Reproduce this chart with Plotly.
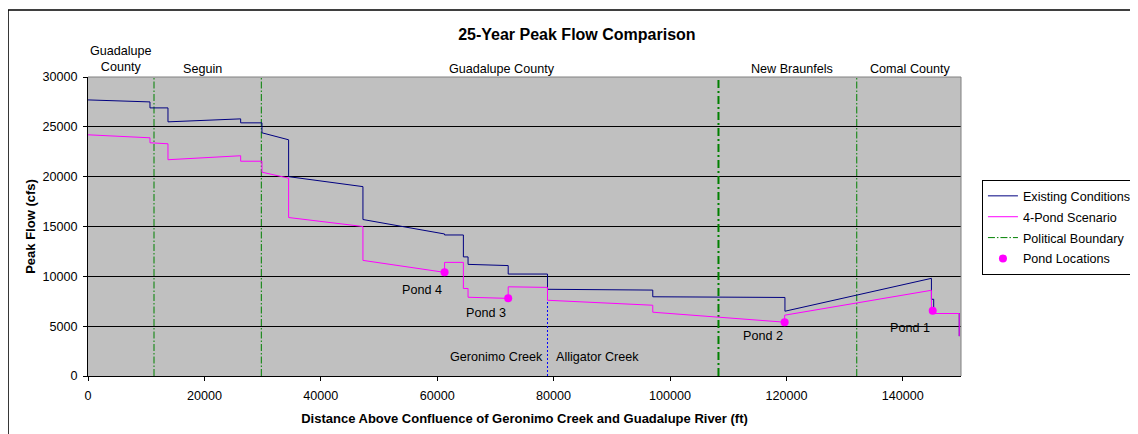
import plotly.graph_objects as go

# ---- data ----
exist_x = [0, 10650, 10650, 13740, 13740, 26230, 26230, 29890, 29890, 34470, 34470,
           47240, 47240, 61270, 61270, 64500, 64500, 65300, 65300, 72200, 72200,
           78950, 78950, 97040, 97040, 119750, 119750, 144920, 144920, 145310, 145310,
           149700, 149700]
exist_y = [27700, 27500, 26900, 26900, 25500, 25800, 25400, 25400, 24400, 23700, 20000,
           19000, 15700, 14250, 14150, 14150, 11950, 11950, 11200, 11080, 10230,
           10230, 8700, 8620, 7950, 7880, 6500, 9800, 7700, 7700, 6270,
           6270, 4000]

pond4_x = [0, 10650, 10650, 13740, 13740, 26230, 26230, 29890, 29890, 34470, 34470,
           47240, 47240, 61270, 61270, 64500, 64500, 65300, 65300, 72200, 72200,
           78950, 78950, 97040, 97040, 119700, 119700, 144920, 144920, 145140, 145310,
           149700, 149700]
pond4_y = [24200, 23900, 23400, 23300, 21700, 22100, 21550, 21550, 20450, 19850, 15900,
           15000, 11600, 10400, 11400, 11400, 8780, 8780, 7900, 7790, 8950,
           8890, 7600, 7100, 6400, 5400, 6100, 8600, 6800, 6550, 6270,
           6270, 4000]

pond_names = ["Pond 1", "Pond 2", "Pond 3", "Pond 4"]
pond_x = [145140, 119700, 72200, 61270]
pond_y = [6550, 5400, 7800, 10400]

boundary_thin_x = [11340, 29780, 132090]
boundary_thick_x = [108330]
creek_split_x = 78950
creek_split_top = 7600

region_names = ["Guadalupe<br>County", "Seguin", "Guadalupe County", "New Braunfels", "Comal County"]
region_x = [5620, 19700, 71060, 120880, 141310]

pond_label_x = [141310, 116060, 68310, 57320]
pond_label_y = [4800, 4020, 6330, 8620]
creek_names = ["Geronimo Creek", "Alligator Creek"]
creek_label_x = [70150, 87550]
creek_label_y = 1910

FONT = "Arial, Liberation Sans, sans-serif"
TXT = 12.6
# the page body has an 8px default margin; compensate so the plot lands where the reference has it
OFF = 8

fig = go.Figure()

# vertical political boundaries (thin)
bx, by = [], []
for v in boundary_thin_x:
    bx += [v, v, None]
    by += [0, 30000, None]
fig.add_trace(go.Scatter(x=bx, y=by, mode="lines", name="Political Boundary",
                         line=dict(color="#008000", width=1, dash="7px,2px,1.5px,2px"),
                         legendgroup="c", legendrank=3, hoverinfo="skip"))
tx, ty = [], []
for v in boundary_thick_x:
    tx += [v, v, None]
    ty += [0, 30000, None]
fig.add_trace(go.Scatter(x=tx, y=ty, mode="lines", showlegend=False,
                         line=dict(color="#008000", width=2, dash="8px,3px,2px,3px"),
                         hoverinfo="skip"))
fig.add_trace(go.Scatter(x=[creek_split_x, creek_split_x], y=[0, creek_split_top], mode="lines",
                         showlegend=False, line=dict(color="#0000FF", width=1, dash="2px,2px"),
                         hoverinfo="skip"))

fig.add_trace(go.Scatter(x=exist_x, y=exist_y, mode="lines", name="Existing Conditions",
                         line=dict(color="#000080", width=1), legendgroup="a", legendrank=1))
fig.add_trace(go.Scatter(x=pond4_x, y=pond4_y, mode="lines", name="4-Pond Scenario",
                         line=dict(color="#FF00FF", width=1), legendgroup="b", legendrank=2))
fig.add_trace(go.Scatter(x=pond_x, y=pond_y, mode="markers", name="Pond Locations",
                         text=pond_names,
                         marker=dict(color="#FF00FF", size=8), legendgroup="d", legendrank=4))

annotations = []
for name, xv in zip(region_names, region_x):
    annotations.append(dict(x=xv, xref="x", y=1.028 if "<br>" not in name else 1.060, yref="paper",
                            text=name, showarrow=False, font=dict(size=TXT, color="#000000", family=FONT),
                            xanchor="center", yanchor="middle"))
for name, xv, yv in zip(pond_names, pond_label_x, pond_label_y):
    annotations.append(dict(x=xv, y=yv, xref="x", yref="y", text=name, showarrow=False,
                            font=dict(size=TXT, color="#000000", family=FONT)))
for name, xv in zip(creek_names, creek_label_x):
    annotations.append(dict(x=xv, y=creek_label_y, xref="x", yref="y", text=name, showarrow=False,
                            font=dict(size=TXT, color="#000000", family=FONT)))

shapes = [
    # outer chart border
    dict(type="rect", xref="paper", yref="paper", x0=-0.0916, x1=1.3, y0=-0.3, y1=1.224,
         line=dict(color="#000000", width=1.5), layer="below"),
    # top and right plot borders (gray)
    dict(type="line", xref="paper", yref="paper", x0=0, x1=1, y0=1, y1=1,
         line=dict(color="#808080", width=1)),
    dict(type="line", xref="paper", yref="paper", x0=1, x1=1, y0=0, y1=1,
         line=dict(color="#808080", width=1)),
]

fig.update_layout(
    width=1138, height=434,
    margin=dict(l=88 - OFF, r=177 + OFF, t=77 - OFF, b=58 + OFF, autoexpand=False),
    paper_bgcolor="white", plot_bgcolor="#C0C0C0",
    font=dict(family=FONT, size=TXT, color="#000000"),
    title=dict(text="<b>25-Year Peak Flow Comparison</b>", x=0.56, xref="paper", xanchor="center",
               y=1 - (34 - OFF) / 434, yref="container", yanchor="middle",
               font=dict(size=16, family=FONT, color="#000000")),
    showlegend=True,
    legend=dict(x=1.024, y=0.655, xanchor="left", yanchor="top", bgcolor="white",
                bordercolor="#000000", borderwidth=1, font=dict(size=TXT, family=FONT),
                traceorder="grouped", tracegroupgap=1.5),
    annotations=annotations, shapes=shapes,
    xaxis=dict(range=[0, 150000], tick0=0, dtick=20000, tickformat="d", showgrid=False, zeroline=False,
               showline=True, linecolor="#000000", linewidth=1, ticks="outside", ticklen=4,
               tickcolor="#000000", tickfont=dict(size=TXT), ticklabelstandoff=4,
               title=dict(text="<b>Distance Above Confluence of Geronimo Creek and Guadalupe River (ft)</b>",
                          font=dict(size=13), standoff=11)),
    yaxis=dict(range=[0, 30000], tick0=0, dtick=5000, tickformat="d", showgrid=True, gridcolor="#000000",
               gridwidth=1, zeroline=False, showline=True, linecolor="#000000", linewidth=1, ticks="outside",
               ticklen=4, tickcolor="#000000", tickfont=dict(size=TXT), ticklabelstandoff=3,
               title=dict(text="<b>Peak Flow (cfs)</b>", font=dict(size=13), standoff=3)),
)

fig.write_html("out.html")
